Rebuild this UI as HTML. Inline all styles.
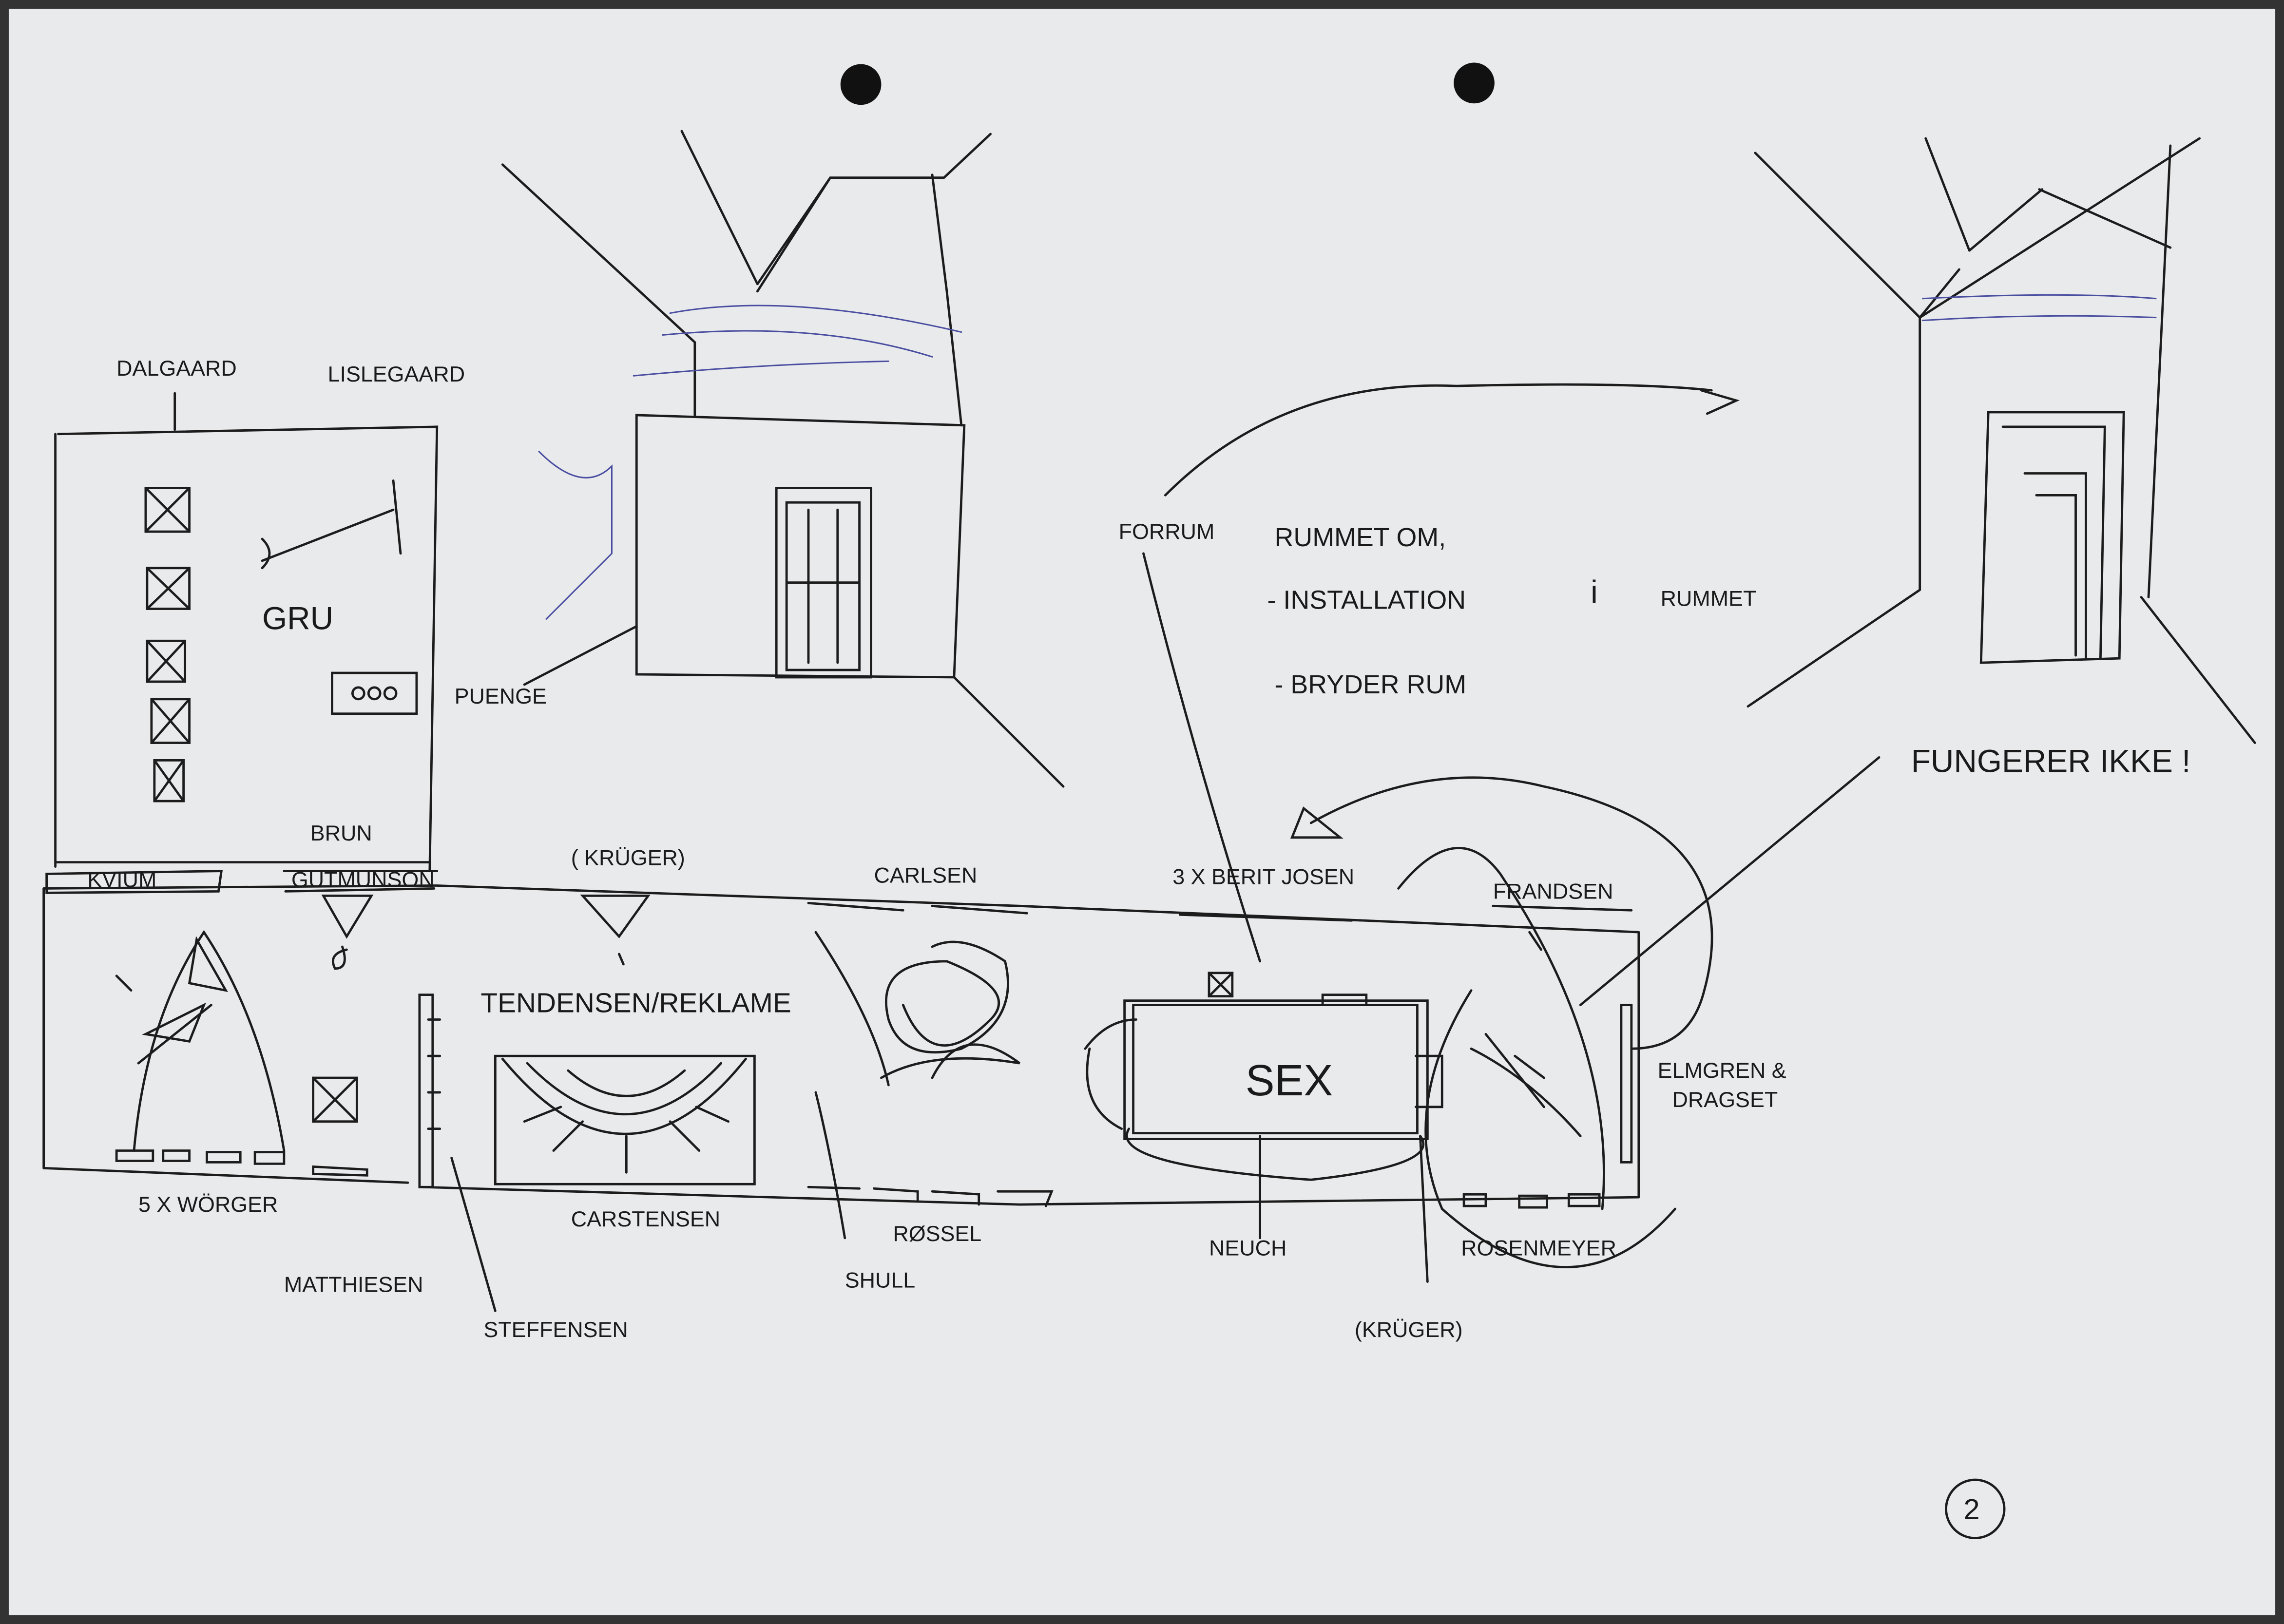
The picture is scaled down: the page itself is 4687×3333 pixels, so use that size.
<!DOCTYPE html>
<html><head><meta charset="utf-8"><style>
html,body{margin:0;padding:0;background:#2a2a2a;}
svg{display:block;}
text{font-family:"Liberation Sans",sans-serif;fill:#1a1a1a;}
</style></head><body>
<svg width="4687" height="3333" viewBox="0 0 1568 1115" preserveAspectRatio="none" xmlns="http://www.w3.org/2000/svg">
<rect x="0" y="0" width="1568" height="1115" fill="#333"/>
<rect x="6" y="6" width="1556" height="1103" fill="#e9eaec"/>
<circle cx="591" cy="58" r="14" fill="#111"/>
<circle cx="1012" cy="57" r="14" fill="#111"/>
<g fill="none" stroke="#1c1c1c" stroke-width="1.6" stroke-linecap="round">
<!-- left room -->
<path d="M38 298 L38 595 M40 298 L300 293 L295 598 M38 592 L295 592"/>
<rect x="100" y="335" width="30" height="30"/><path d="M100 335 L130 365 M130 335 L100 365"/>
<rect x="101" y="390" width="29" height="28"/><path d="M101 390 L130 418 M130 390 L101 418"/>
<rect x="101" y="440" width="26" height="28"/><path d="M101 440 L127 468 M127 440 L101 468"/>
<rect x="104" y="480" width="26" height="30"/><path d="M104 480 L130 510 M130 480 L104 510"/>
<rect x="106" y="522" width="20" height="28"/><path d="M106 522 L126 550 M126 522 L106 550"/>
<rect x="228" y="462" width="58" height="28"/>
<circle cx="246" cy="476" r="4"/><circle cx="257" cy="476" r="4"/><circle cx="268" cy="476" r="4"/>
<path d="M180 385 L270 350 M270 330 L275 380 M180 370 Q190 380 180 390"/>
<path d="M120 295 L120 270"/>
<!-- long plan -->
<path d="M30 610 L300 608 L700 622 L1125 640 M30 610 L30 802 M30 802 L280 812 M290 815 L700 827 L1125 822 M1125 640 L1125 822"/>
<path d="M32 600 L152 598 L150 612 L32 613 Z M195 598 L300 598 M196 612 L298 610"/>
<path d="M222 615 L255 615 L238 643 Z M235 650 Q240 665 230 665 Q225 655 238 652"/>
<path d="M400 615 L445 615 L425 643 Z M425 655 L428 662"/>
<path d="M80 790 L105 790 L105 797 L80 797 Z M112 790 L130 790 L130 797 L112 797Z M142 791 L165 791 L165 798 L142 798Z M175 791 L195 791 L195 799 L175 799Z M215 801 L252 803 L252 807 L215 806Z"/>
<rect x="215" y="740" width="30" height="30"/><path d="M215 740 L245 770 M245 740 L215 770"/>
<path d="M100 710 L140 690 L130 715 Z M95 730 L145 690 M135 645 L155 680 L130 675 Z M80 670 L90 680 M92 790 Q100 700 140 640 Q180 700 195 790"/>
<path d="M288 683 L297 683 L297 815 L288 815 Z M294 700 L302 700 M294 725 L302 725 M294 750 L302 750 M294 775 L302 775"/>
<rect x="340" y="725" width="178" height="88"/>
<path d="M345 727 Q430 830 512 727 M362 730 Q430 800 495 730 M390 735 Q430 770 470 735 M360 770 L385 760 M380 790 L400 770 M430 805 L430 780 M480 790 L460 770 M500 770 L478 760"/>
<path d="M555 620 L620 625 M640 622 L705 627 M810 628 L928 632 M1025 622 L1120 625 M1050 640 L1058 652"/>
<path d="M555 815 L590 816 M600 816 L630 818 L630 825 M640 818 L672 820 L672 827 M685 818 L722 818 L718 828"/>
<path d="M1005 820 L1020 820 L1020 828 L1005 828 Z M1043 821 L1062 821 L1062 829 L1043 829Z M1077 820 L1098 820 L1098 828 L1077 828Z"/>
<path d="M1113 690 L1120 690 L1120 798 L1113 798 Z"/>
<path d="M640 650 Q660 640 690 660 Q700 700 660 720 Q620 730 610 700 Q600 660 650 660 Q700 680 680 700 Q640 740 620 690 M605 740 Q640 720 700 730 Q660 700 640 740"/>
<path d="M560 640 Q600 700 610 745 M560 750 Q570 790 580 850"/>
<rect x="778" y="690" width="195" height="88"/><rect x="772" y="687" width="208" height="95"/>
<path d="M972 725 L990 725 L990 760 L972 760"/>
<rect x="830" y="668" width="16" height="16"/><path d="M830 668 L846 684 M846 668 L830 684"/>
<rect x="908" y="683" width="30" height="7"/>
<path d="M745 720 Q760 700 780 700 M748 720 Q740 760 770 775 M775 775 Q760 800 900 810 Q990 800 975 780"/>
<path d="M1010 720 Q1050 740 1085 780 M1020 710 L1060 760 M1040 725 L1060 740"/>
<path d="M960 610 Q1000 560 1030 600 Q1110 720 1100 830 M1150 830 Q1080 910 990 830 Q960 760 1010 680"/>
<path d="M887 575 L920 575 L895 555 Z M900 565 Q980 520 1060 540 Q1200 570 1170 680 Q1160 720 1120 720"/>
<path d="M1085 690 L1290 520"/>
<path d="M785 380 Q820 520 865 660 M865 780 L865 850"/>
<path d="M800 340 Q880 260 1000 265 Q1120 262 1175 268 M1168 268 L1192 275 L1172 284"/>
<path d="M310 795 L340 900 M975 780 L980 880"/>
<!-- center room sketch -->
<path d="M345 113 L477 235 M477 235 L477 285 M468 90 L520 195 M520 195 L570 122 L648 122 L680 92 M570 122 L520 200 M640 120 L650 200 L660 292"/>
<path d="M437 285 L662 292 L655 465 L437 463 Z"/>
<rect x="533" y="335" width="65" height="130"/>
<path d="M540 345 L590 345 L590 460 L540 460 Z M555 350 L555 455 M575 350 L575 455 M540 400 L590 400"/>
<path d="M437 430 L360 470 M655 465 L730 540"/>
<path stroke="#4a4ea0" stroke-width="1" d="M460 215 Q540 200 660 228 M455 230 Q560 220 640 245 M435 258 Q520 250 610 248 M370 310 Q400 340 420 320 L420 380 L375 425"/>
<!-- right sketch -->
<path d="M1205 105 L1318 218 L1510 95 M1318 218 L1318 405 M1322 95 L1352 172 M1352 172 L1402 130 M1318 218 L1345 185 M1318 405 L1200 485 M1470 410 L1548 510 M1490 100 L1475 410 M1400 130 L1490 170"/>
<path d="M1365 283 L1458 283 L1455 452 L1360 455 Z M1375 293 L1445 293 L1442 452 M1390 325 L1432 325 L1432 452 M1398 340 L1425 340 L1425 450"/>
<path stroke="#4a4ea0" stroke-width="1" d="M1320 205 Q1420 200 1480 205 M1320 220 Q1400 215 1480 218"/>
<circle cx="1356" cy="1036" r="20"/>
</g>
<g font-size="15">
<text x="80" y="258">DALGAARD</text>
<text x="225" y="262">LISLEGAARD</text>
<text x="180" y="432" font-size="22">GRU</text>
<text x="312" y="483">PUENGE</text>
<text x="213" y="577">BRUN</text>
<text x="60" y="609">KVIUM</text>
<text x="200" y="609">GUTMUNSON</text>
<text x="392" y="594">( KRÜGER)</text>
<text x="600" y="606">CARLSEN</text>
<text x="805" y="607">3 X BERIT JOSEN</text>
<text x="1025" y="617">FRANDSEN</text>
<text x="330" y="695" font-size="19">TENDENSEN/REKLAME</text>
<text x="855" y="752" font-size="30">SEX</text>
<text x="1138" y="740">ELMGREN &amp;</text>
<text x="1148" y="760">DRAGSET</text>
<text x="95" y="832">5 X WÖRGER</text>
<text x="195" y="887">MATTHIESEN</text>
<text x="332" y="918">STEFFENSEN</text>
<text x="392" y="842">CARSTENSEN</text>
<text x="613" y="852">RØSSEL</text>
<text x="580" y="884">SHULL</text>
<text x="830" y="862">NEUCH</text>
<text x="1003" y="862">ROSENMEYER</text>
<text x="930" y="918">(KRÜGER)</text>
<text x="768" y="370">FORRUM</text>
<text x="875" y="375" font-size="18">RUMMET OM,</text>
<text x="870" y="418" font-size="18">- INSTALLATION</text>
<text x="1092" y="414" font-size="22">i</text>
<text x="1140" y="416">RUMMET</text>
<text x="875" y="476" font-size="18">- BRYDER RUM</text>
<text x="1312" y="530" font-size="22">FUNGERER IKKE !</text>
<text x="1348" y="1043" font-size="20">2</text>
</g>
</svg>
</body></html>
